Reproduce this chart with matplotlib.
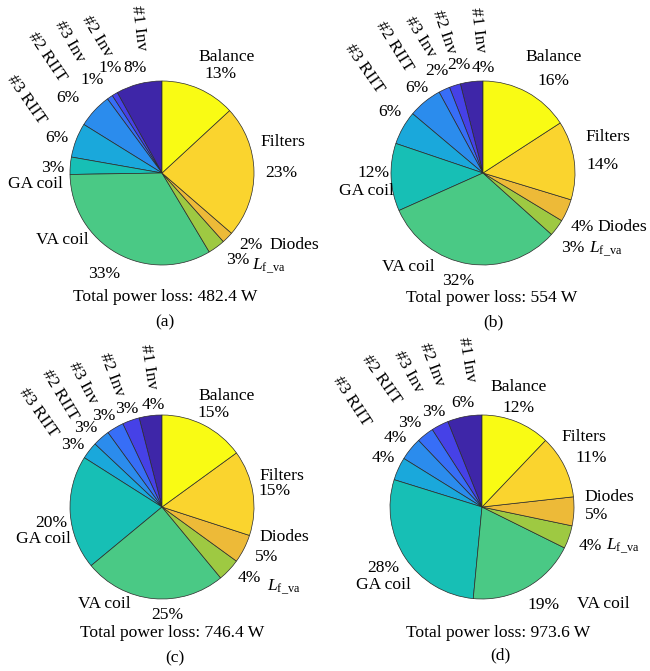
import matplotlib
matplotlib.use("Agg")
import matplotlib.pyplot as plt

W, H = 650, 671
DPI = 100

plt.rcParams['font.family'] = ['Liberation Serif', 'DejaVu Serif']
plt.rcParams['mathtext.fontset'] = 'custom'
plt.rcParams['mathtext.rm'] = 'Liberation Serif'
plt.rcParams['mathtext.it'] = 'Liberation Serif:italic'
plt.rcParams['mathtext.bf'] = 'Liberation Serif:bold'

# Loss components, listed counter-clockwise starting from 12 o'clock
components = ['#1 Inv', '#2 Inv', '#3 Inv', '#2 RIIT', '#3 RIIT', 'GA coil',
              'VA coil', r'$L_{\mathrm{f\_va}}$', 'Diodes', 'Filters', 'Balance']

# Percentage share of each component (%)
share_a = [8, 1, 1, 6, 6, 3, 33, 3, 2, 23, 13]
share_b = [4, 2, 2, 6, 6, 12, 32, 3, 4, 14, 16]
share_c = [4, 3, 3, 3, 3, 20, 25, 4, 5, 15, 15]
share_d = [6, 3, 3, 4, 4, 28, 19, 4, 5, 11, 12]

total_loss = [482.4, 554, 746.4, 973.6]
panel_tags = ['(a)', '(b)', '(c)', '(d)']

# parula-like palette, one colour per component
palette = [
    (0.243, 0.150, 0.660), (0.275, 0.255, 0.905), (0.215, 0.430, 0.970),
    (0.170, 0.550, 0.930), (0.100, 0.660, 0.860), (0.090, 0.750, 0.710),
    (0.290, 0.790, 0.520), (0.620, 0.790, 0.260), (0.930, 0.730, 0.220),
    (0.980, 0.830, 0.180), (0.977, 0.984, 0.080),
]

RADIUS = 92  # pie radius in pixels

# Layout (pixel coordinates, origin top-left): pie centre, label anchors, rotations
layouts = [
    dict(center=(162, 173),
         names=[(138.3, 28.3), (96.7, 36.7), (70, 41.7), (46.7, 56.7), (26.7, 100),
                (35, 184.3), (62.7, 240), (269, 266), (294, 245.3), (282.7, 141.7),
                (226.7, 57.3)],
         pcts=[(135, 68.3), (110, 68.3), (91.7, 80), (68.3, 97.7), (57.3, 137.7),
               (52.3, 168.3), (104.3, 274), (237.7, 260), (250.7, 245.3),
               (281.7, 172.7), (221, 74)],
         rot=[-83, -59, -60, -56, -55],
         total=(165, 297), tag=(165, 322)),
    dict(center=(483, 173),
         names=[(477.3, 30), (444, 31.7), (420, 36.7), (394, 46.7), (364.3, 68.3),
                (366.7, 190.7), (408.3, 266.7), (606, 249), (622, 226.7),
                (607.7, 137.3), (553.3, 57.3)],
         pcts=[(483.3, 68.3), (459.3, 65), (437.3, 70.7), (416.7, 87.7), (390, 112.3),
               (373.3, 173.3), (458.3, 280.7), (572.3, 248.3), (582, 226.7),
               (602.7, 165), (553.3, 81)],
         rot=[-83, -71, -58, -58, -55],
         total=(491.7, 298), tag=(493.3, 322)),
    dict(center=(162, 507),
         names=[(148.3, 366.7), (111.7, 375), (83.3, 383.3), (60, 395), (38.3, 412.7),
                (43.3, 539.3), (104, 604), (283.5, 587.5), (284, 537.3),
                (281.7, 476), (226.7, 396)],
         pcts=[(153.3, 405), (126.7, 409.3), (104, 416), (86, 428.3), (72.7, 445),
               (51.7, 522.7), (167.3, 615), (249.3, 578.3), (266.7, 556.7),
               (275, 491), (213.3, 413.3)],
         rot=[-81, -69, -62, -59, -55],
         total=(171.7, 633.3), tag=(175, 658)),
    dict(center=(482, 507),
         names=[(466.7, 360), (431.7, 365), (408.3, 371.7), (381.7, 380), (351.7, 401.7),
                (383.3, 585), (603.3, 604), (622.7, 546), (609.3, 496.7),
                (584.3, 437.3), (518.3, 387.3)],
         pcts=[(462.7, 402.7), (433.3, 411.7), (410, 423.3), (395, 438.3), (383.3, 458.3),
               (383.3, 567.7), (544, 605), (590.7, 546), (596.7, 515),
               (591.7, 457.7), (518.3, 408.3)],
         rot=[-80, -69, -61, -55, -57],
         total=(498.3, 633.3), tag=(500, 655)),
]

shares = [share_a, share_b, share_c, share_d]

fig = plt.figure(figsize=(W / DPI, H / DPI), dpi=DPI)
ax = fig.add_axes([0, 0, 1, 1])

FS = 12.6


def px(p):
    """Convert top-left pixel coordinates to data coordinates."""
    return p[0], H - p[1]


for values, lay, total, tag in zip(shares, layouts, total_loss, panel_tags):
    cx, cy = px(lay['center'])
    ax.pie(values, colors=palette, startangle=90, counterclock=True,
           center=(cx, cy), radius=RADIUS, frame=True,
           wedgeprops=dict(edgecolor='#2a2a2a', linewidth=0.5))
    for i, (name, v) in enumerate(zip(components, values)):
        rot = lay['rot'][i] if i < len(lay['rot']) else 0
        nx, ny = px(lay['names'][i])
        ax.text(nx, ny, name, fontsize=FS, ha='center', va='center',
                rotation=rot, rotation_mode='anchor', clip_on=False)
        qx, qy = px(lay['pcts'][i])
        ax.text(qx, qy, f"{v}%", fontsize=FS, ha='center', va='center',
                clip_on=False)
    tx, ty = px(lay['total'])
    ax.text(tx, ty, f"Total power loss: {total:g} W", fontsize=FS,
            ha='center', va='center')
    gx, gy = px(lay['tag'])
    ax.text(gx, gy, tag, fontsize=FS, ha='center', va='center')

ax.set_xlim(0, W)
ax.set_ylim(0, H)
ax.set_aspect('equal')
ax.axis('off')

fig.savefig('out.png', dpi=DPI)
